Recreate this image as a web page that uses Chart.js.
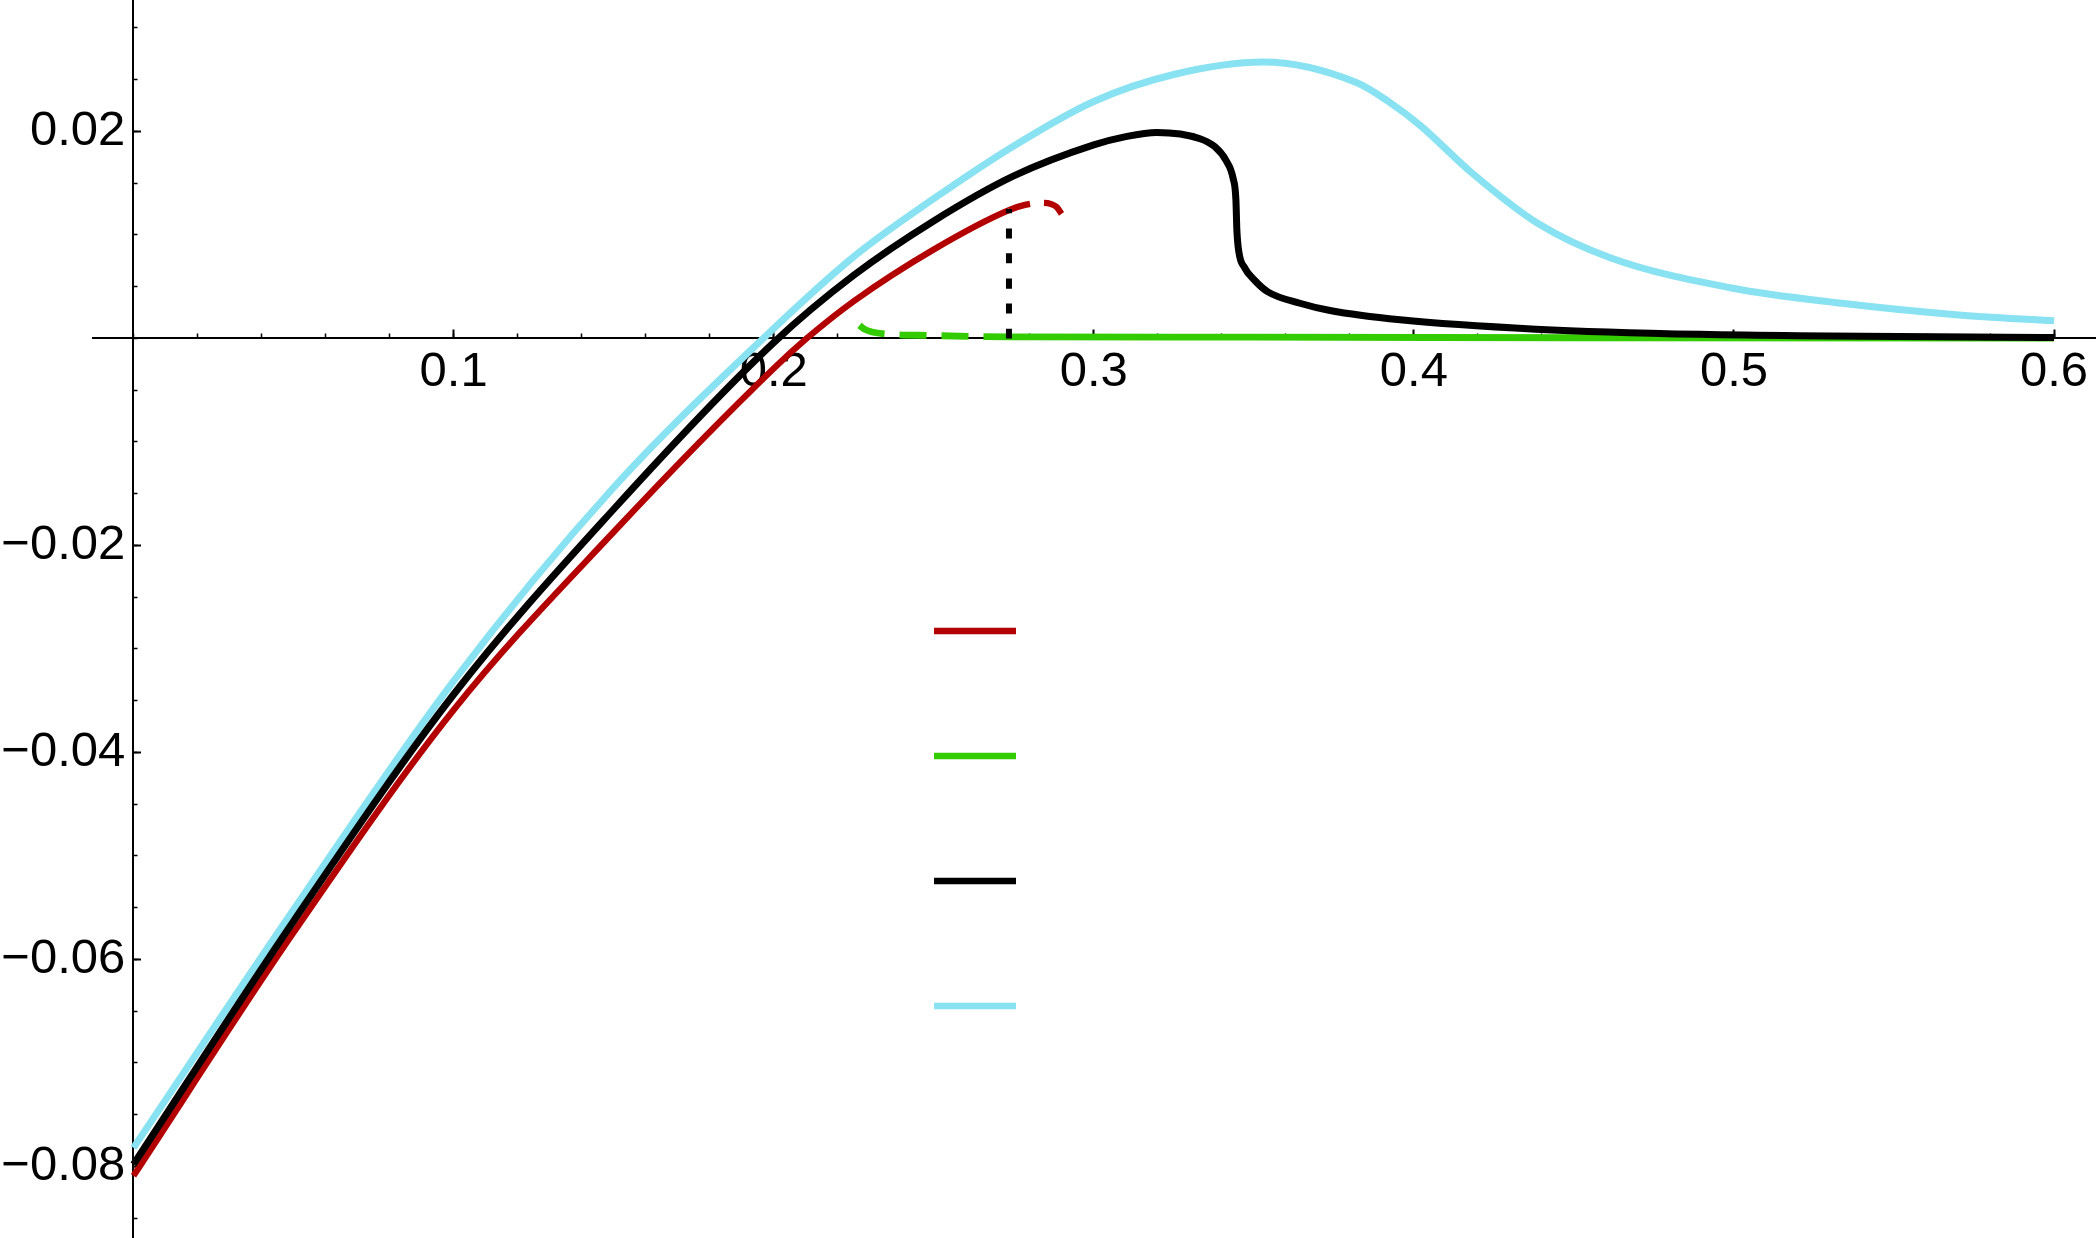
<!DOCTYPE html>
<html lang="en">
<head>
  <meta charset="UTF-8">
  <title>Branches</title>
  <script src="https://cdn.jsdelivr.net/npm/chart.js"></script>
  <style>
    html, body { margin: 0; padding: 0; background: #fff; }
    #wrap { width: 2096px; height: 1238px; }
  </style>
</head>
<body>
<div id="wrap"><canvas id="myChart" width="2096" height="1238"></canvas></div>

<script>
  // values
  var redX   = [0, 0.05, 0.10, 0.15, 0.20, 0.2103, 0.225, 0.25, 0.2735, 0.2785, 0.2834, 0.2866, 0.2884, 0.2900];
  var redY   = [-0.0809, -0.0574, -0.0359, -0.0187, -0.0029, 0.0000, 0.0036, 0.0086, 0.0124, 0.0129, 0.0131, 0.0130, 0.0127, 0.0120];

  var greenX = [0.2268, 0.2282, 0.2307, 0.2354, 0.2488, 0.2735, 0.3500, 0.4500, 0.6000];
  var greenY = [0.00126, 0.00092, 0.00063, 0.00043, 0.00029, 0.00016, 0.00012, 0.00007, 0.00003];

  var blackX = [0, 0.05, 0.10, 0.15, 0.20, 0.225, 0.25, 0.275, 0.30, 0.31, 0.3197, 0.3332, 0.3379, 0.3413,
                0.3435, 0.3444, 0.3447, 0.3453, 0.3472, 0.3503, 0.3544, 0.3644, 0.3738, 0.3957, 0.4381, 0.4894, 0.6000];
  var blackY = [-0.0798, -0.0563, -0.0344, -0.0165, -0.0004, 0.0061, 0.01135, 0.0157, 0.0187, 0.0195, 0.0199, 0.0193, 0.0185, 0.0172,
                0.0155, 0.0134, 0.0105, 0.0084, 0.0068, 0.0056, 0.0045, 0.0034, 0.0027, 0.0018, 0.0009, 0.0004, 0.0001];

  var cyanX  = [0, 0.05, 0.10, 0.15, 0.1967, 0.225, 0.25, 0.275, 0.30, 0.325, 0.3529, 0.3822, 0.392, 0.4019, 0.4181,
                0.4388, 0.4613, 0.4988, 0.5337, 0.5693, 0.6000];
  var cyanY  = [-0.0782, -0.0552, -0.0331, -0.0144, 0.0000, 0.0079, 0.0135, 0.0186, 0.0229, 0.0255, 0.0267, 0.0247, 0.0229, 0.0206, 0.0160,
                0.0111, 0.0078, 0.0049, 0.0034, 0.0023, 0.0017];

  // where red turns dashed and green turns solid (dotted marker)
  var foldX = 0.2735;
  var foldTop = 0.0125;

  var xTickLabels = [0.1, 0.2, 0.3, 0.4, 0.5, 0.6];
  var yTickLabels = [-0.08, -0.06, -0.04, -0.02, 0.02];

  var X_MIN = -0.01265, X_MAX = 0.6131;
  var Y_MIN = -0.08691, Y_MAX = 0.03270;

  function pts(xs, ys) {
    return xs.map(function (x, i) { return { x: x, y: ys[i] }; });
  }

  function stepTicks(from, to, step) {
    var out = [];
    for (var v = from; v <= to + step / 1000; v += step) out.push(Math.round(v * 1e4) / 1e4);
    return out;
  }
  var xMinorTicks = stepTicks(0, 0.6, 0.02);
  var yMinorTicks = stepTicks(-0.085, 0.03, 0.005);

  // axes sit inside the plot, so they must not eat layout space
  function flat(scale) {
    if (scale.isHorizontal()) scale.height = 0; else scale.width = 0;
    scale.paddingLeft = scale.paddingRight = scale.paddingTop = scale.paddingBottom = 0;
  }
  function useTicks(values) {
    return function (scale) {
      scale.ticks = values.map(function (v) { return { value: v }; });
    };
  }

  var labelFont = { family: '"Liberation Sans", Arial, sans-serif', size: 49, lineHeight: 1 };

  var swatchLegend = {
    id: 'swatchLegend',
    afterDatasetsDraw: function (chart, args, opts) {
      var ctx = chart.ctx;
      opts.order.forEach(function (label, i) {
        var ds = chart.data.datasets.find(function (d) { return d.label === label; });
        var y = opts.top + i * opts.rowGap;
        ctx.save();
        ctx.strokeStyle = ds.borderColor;
        ctx.lineWidth = opts.lineWidth;
        ctx.beginPath();
        ctx.moveTo(opts.left, y);
        ctx.lineTo(opts.left + opts.length, y);
        ctx.stroke();
        ctx.restore();
      });
    }
  };

  var ctx = document.getElementById('myChart').getContext('2d');
  var myChart = new Chart(ctx, {
    type: 'line',
    data: {
      datasets: [
        {
          label: 'fold',
          data: [{ x: foldX, y: 0 }, { x: foldX, y: foldTop }],
          borderColor: '#000',
          borderWidth: 6,
          borderDash: [10, 15]
        },
        {
          label: 'black',
          data: pts(blackX, blackY),
          borderColor: '#000',
          borderWidth: 7
        },
        {
          label: 'cyan',
          data: pts(cyanX, cyanY),
          borderColor: '#88e2f1',
          borderWidth: 7
        },
        {
          label: 'red',
          data: pts(redX, redY),
          borderColor: '#b30000',
          borderWidth: 6.3,
          segment: {
            borderDash: function (c) { return c.p0.parsed.x >= foldX - 1e-6 ? [22, 14] : undefined; }
          }
        },
        {
          label: 'green',
          data: pts(greenX, greenY),
          borderColor: '#33cc00',
          borderWidth: 6.8,
          segment: {
            borderDash: function (c) { return c.p1.parsed.x <= foldX + 1e-6 ? [27, 15] : undefined; }
          }
        }
      ]
    },
    options: {
      responsive: false,
      devicePixelRatio: 1,
      animation: false,
      layout: { padding: { left: 93, right: 0, top: 0, bottom: 0 } },
      elements: {
        point: { radius: 0, hoverRadius: 0 },
        line: { fill: false, cubicInterpolationMode: 'monotone', borderJoinStyle: 'round' }
      },
      plugins: {
        legend: { display: false },
        tooltip: { enabled: false },
        swatchLegend: {
          order: ['red', 'green', 'black', 'cyan'],
          left: 934, top: 631, rowGap: 125, length: 82, lineWidth: 6.6
        }
      },
      scales: {
        x: {
          type: 'linear', axis: 'x', min: X_MIN, max: X_MAX, bounds: 'data',
          position: { y: 0 },
          border: { color: '#000', width: 2 },
          grid: { drawOnChartArea: false, tickLength: -5.5, tickColor: '#000', tickWidth: 1.5 },
          ticks: { display: false },
          afterBuildTicks: useTicks(xMinorTicks),
          afterFit: flat
        },
        xMajor: {
          type: 'linear', axis: 'x', min: X_MIN, max: X_MAX, bounds: 'data',
          position: { y: 0 },
          border: { display: false },
          grid: { drawOnChartArea: false, tickLength: -8.5, tickColor: '#000', tickWidth: 2 },
          ticks: {
            padding: 18, maxRotation: 0, autoSkip: false, color: '#000', font: labelFont,
            callback: function (v) { return v.toFixed(1); }
          },
          afterBuildTicks: useTicks(xTickLabels),
          afterFit: flat
        },
        y: {
          type: 'linear', axis: 'y', min: Y_MIN, max: Y_MAX, bounds: 'data',
          position: { x: 0 },
          border: { color: '#000', width: 2 },
          grid: { drawOnChartArea: false, tickLength: -5.5, tickColor: '#000', tickWidth: 1.5 },
          ticks: { display: false },
          afterBuildTicks: useTicks(yMinorTicks),
          afterFit: flat
        },
        yMajor: {
          type: 'linear', axis: 'y', min: Y_MIN, max: Y_MAX, bounds: 'data',
          position: { x: 0 },
          border: { display: false },
          grid: { drawOnChartArea: false, tickLength: -8, tickColor: '#000', tickWidth: 2 },
          ticks: {
            autoSkip: false, color: '#000', font: labelFont,
            callback: function (v) {
              return (v < 0 ? '\u2212' : '') + Math.abs(v).toFixed(2) + '\u2006';
            }
          },
          afterBuildTicks: useTicks(yTickLabels),
          afterFit: flat
        }
      }
    },
    plugins: [swatchLegend]
  });
</script>
</body>
</html>
